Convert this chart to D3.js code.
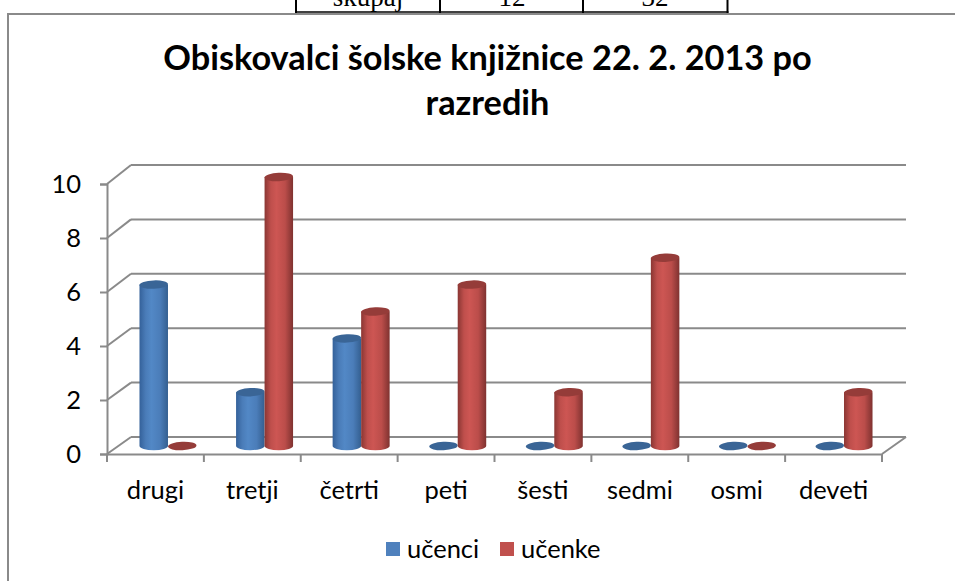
<!DOCTYPE html>
<html>
<head>
<meta charset="utf-8">
<script src="https://cdnjs.cloudflare.com/ajax/libs/d3/7.8.5/d3.min.js"></script>
<style>
	html, body { margin: 0; padding: 0; background: #fff; }
	svg { display: block; }
	text { font-family: Lato, "Open Sans", sans-serif; fill: #000; }
</style>
</head>
<body>
<svg width="955" height="581"></svg>
<script>
(function(){
	'use strict';

	const categories = ['drugi', 'tretji', 'četrti', 'peti', 'šesti', 'sedmi', 'osmi', 'deveti'];
	const ucenci = [6, 2, 4, 0, 0, 0, 0, 0];
	const ucenke = [0, 10, 5, 6, 2, 7, 0, 2];
	const yTicks = [0, 2, 4, 6, 8, 10];
	const titleLines = ['Obiskovalci šolske knjižnice 22. 2. 2013 po', 'razredih'];
	const tableRow = ['skupaj', '12', '32'];

	const axisColor = '#8a8a8a';
	const depthX = 24;

	const svg = d3.select('svg');

	const series = [
		{name: 'učenci', values: ucenci, key: 'blue', legend: '#4f81bd', cap: '#3a6596', stops: ['#34619a', '#4a7cb8', '#5288c6', '#4b7db9', '#345f90']},
		{name: 'učenke', values: ucenke, key: 'red', legend: '#c0504d', cap: '#953c39', stops: ['#8a3633', '#bf4f4c', '#cd5653', '#bb4d4a', '#7f3230']}
	];

	// scales
	const x = d3.scaleBand().domain(categories).range([107, 882]);
	const yFront = d3.scaleLinear().domain([0, 10]).range([454, 184]);
	const yBack = d3.scaleLinear().domain([0, 10]).range([437, 165]);
	const yBar = d3.scaleLinear().domain([0, 10]).range([446, 177]);
	const xBar = d3.scaleBand().domain(categories).range([119.7, 892.3]);
	const xSeries = d3.scaleBand().domain(series.map(d => d.name)).range([-28.5, 28.5]);

	// gradients for the cylinders
	const defs = svg.append('defs');
	series.forEach(s => {
		const grad = defs.append('linearGradient').attr('id', 'grad-' + s.key);
		[0, 0.22, 0.42, 0.72, 1].forEach((o, i) => {
			grad.append('stop').attr('offset', o).attr('stop-color', s.stops[i]);
		});
	});

	// piece of the table above the chart
	const tableX = d3.scaleOrdinal().domain([0, 1, 2]).range([296, 440, 583]);
	const tableG = svg.append('g');
	tableG.selectAll('line.cell')
		.data([296, 440, 583, 727.5])
		.join('line')
			.attr('x1', d => d).attr('x2', d => d)
			.attr('y1', 0).attr('y2', 13)
			.attr('stroke', '#000').attr('stroke-width', 2);
	tableG.append('line')
		.attr('x1', 295).attr('x2', 728.5)
		.attr('y1', 12).attr('y2', 12)
		.attr('stroke', '#000').attr('stroke-width', 1.5);
	tableG.selectAll('text')
		.data(tableRow)
		.join('text')
			.attr('x', (d, i) => tableX(i) + 72)
			.attr('y', 6)
			.attr('text-anchor', 'middle')
			.style('font-family', '"Liberation Serif", serif')
			.style('font-size', '27px')
			.text(d => d);

	// chart frame, open at right and bottom like the crop
	svg.append('path')
		.attr('d', 'M8,581V14H955')
		.attr('fill', 'none')
		.attr('stroke', axisColor)
		.attr('stroke-width', 2);

	// title
	svg.append('g').selectAll('text')
		.data(titleLines)
		.join('text')
			.attr('x', 487.5)
			.attr('y', (d, i) => 70 + i * 45)
			.attr('text-anchor', 'middle')
			.style('font-size', '34.3px')
			.style('font-weight', 700)
			.text(d => d);

	// back wall and side wall
	const wall = svg.append('g')
		.attr('stroke', axisColor)
		.attr('stroke-width', 2)
		.attr('fill', 'none');
	wall.selectAll('line.grid')
		.data(yTicks)
		.join('line')
			.attr('class', 'grid')
			.attr('x1', x.range()[0] + depthX).attr('x2', x.range()[1] + depthX)
			.attr('y1', d => yBack(d)).attr('y2', d => yBack(d));
	wall.selectAll('line.side')
		.data(yTicks)
		.join('line')
			.attr('class', 'side')
			.attr('x1', x.range()[0]).attr('x2', x.range()[0] + depthX)
			.attr('y1', d => yFront(d)).attr('y2', d => yBack(d));
	wall.append('line')
		.attr('x1', x.range()[1]).attr('x2', x.range()[1] + depthX)
		.attr('y1', yFront(0)).attr('y2', yBack(0));

	// axes
	const yAxis = svg.append('g')
		.attr('transform', `translate(${x.range()[0]},0)`)
		.call(d3.axisLeft(yFront).tickValues(yTicks).tickSize(7).tickPadding(19));
	const xAxis = svg.append('g')
		.attr('transform', `translate(0,${yFront(0)})`)
		.call(d3.axisBottom(x).tickSize(0).tickPadding(27));
	xAxis.selectAll('line.edge')
		.data(d3.range(categories.length + 1))
		.join('line')
			.attr('class', 'edge')
			.attr('x1', i => x.range()[0] + i * x.step())
			.attr('x2', i => x.range()[0] + i * x.step())
			.attr('y1', 0).attr('y2', 8);
	[yAxis, xAxis].forEach(a => {
		a.selectAll('path.domain').attr('stroke', axisColor).attr('stroke-width', 2);
		a.selectAll('line').attr('stroke', axisColor).attr('stroke-width', 2);
		a.selectAll('text').style('font-size', '25.5px').style('font-family', 'Lato, sans-serif');
	});

	// cylinders
	const rx = xSeries.bandwidth() / 2;
	const ry = 4.2;
	const barsG = svg.append('g');
	categories.forEach((c, i) => {
		series.forEach(s => {
			const left = xBar(c) + xBar.bandwidth() / 2 + xSeries(s.name);
			const top = yBar(s.values[i]);
			const bottom = yBar(0);
			if (s.values[i] > 0) {
				barsG.append('path')
					.attr('d', `M${left},${bottom}V${top}H${left + 2 * rx}V${bottom}A${rx},${ry} 0 0 1 ${left},${bottom}Z`)
					.attr('fill', `url(#grad-${s.key})`);
			}
			barsG.append('ellipse')
				.attr('cx', left + rx)
				.attr('cy', top)
				.attr('rx', rx)
				.attr('ry', ry)
				.attr('transform', `rotate(-2.5 ${left + rx} ${top})`)
				.attr('fill', s.cap);
		});
	});

	// legend
	const legendX = d3.scaleOrdinal().domain(series.map(d => d.name)).range([386, 500]);
	const legend = svg.append('g').selectAll('g')
		.data(series)
		.join('g')
			.attr('transform', d => `translate(${legendX(d.name)},542)`);
	legend.append('rect')
		.attr('width', 14).attr('height', 14)
		.attr('fill', d => d.legend);
	legend.append('text')
		.attr('x', 21).attr('y', 16)
		.style('font-size', '25.5px')
		.text(d => d.name);
})();
</script>
</body>
</html>
